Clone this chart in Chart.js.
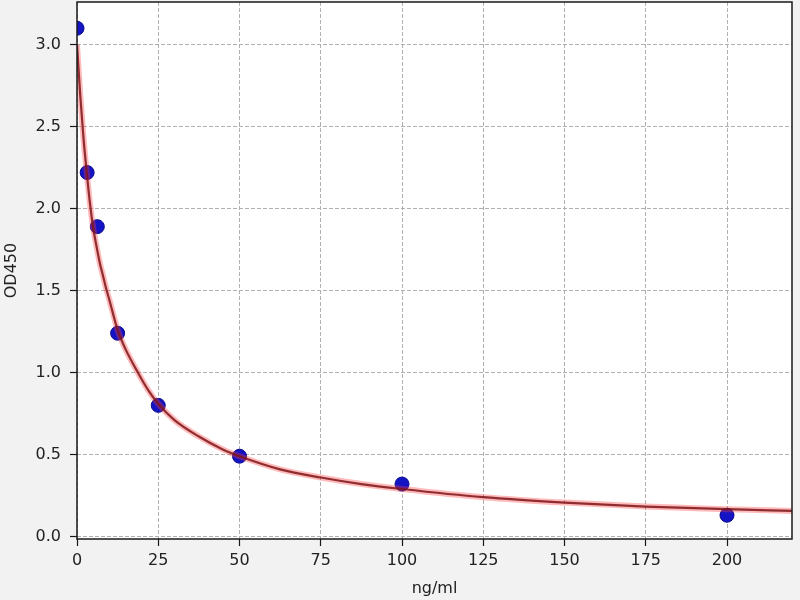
<!DOCTYPE html>
<html>
<head>
<meta charset="utf-8">
<title>OD450 standard curve</title>
<style>
  body { margin: 0; background: #ffffff; }
  #chart { display: block; }
</style>
</head>
<body>
<canvas id="chart" width="800" height="600"></canvas>
<script src="https://cdn.jsdelivr.net/npm/chart.js@4.4.0/dist/chart.umd.min.js"></script>
<script>
// standards (measured points)
const stdConc = [0, 3.125, 6.25, 12.5, 25, 50, 100, 200];
const stdOD   = [3.10, 2.22, 1.89, 1.24, 0.80, 0.49, 0.32, 0.13];

// fitted curve
const fitConc = [0, 1, 2, 3, 4, 5, 6, 7, 8, 9, 10, 12.5, 15, 18.75, 22, 25, 30, 37.5, 45, 50, 62.5, 75, 87.5, 100, 125, 150, 175, 200, 220];
const fitOD   = [3.00, 2.69, 2.43, 2.22, 2.03, 1.88, 1.77, 1.67, 1.59, 1.51, 1.44, 1.26, 1.14, 1.00, 0.89, 0.81, 0.71, 0.61, 0.53, 0.49, 0.41, 0.36, 0.32, 0.29, 0.24, 0.207, 0.183, 0.167, 0.156];

const xTicks = [0, 25, 50, 75, 100, 125, 150, 175, 200];
const yTicks = [0, 0.5, 1, 1.5, 2, 2.5, 3];

const pts = (xs, ys) => xs.map((x, i) => ({x: x, y: ys[i]}));

const font = {family: "'DejaVu Sans', sans-serif", size: 16};

// grey figure background, white axes box, black frame
const frame = {
  id: 'frame',
  beforeDraw(chart) {
    const {ctx, chartArea: a} = chart;
    ctx.save();
    ctx.fillStyle = '#f2f2f2';
    ctx.fillRect(0, 0, chart.width, chart.height);
    ctx.fillStyle = '#ffffff';
    ctx.fillRect(a.left, a.top, a.right - a.left, a.bottom - a.top);
    ctx.restore();
  },
  afterDraw(chart) {
    const {ctx, chartArea: a} = chart;
    ctx.save();
    ctx.strokeStyle = '#1a1a1a';
    ctx.lineWidth = 1.5;
    ctx.strokeRect(a.left, a.top, a.right - a.left, a.bottom - a.top);
    ctx.restore();
  }
};

const gridOpts = {
  color: '#b0b0b0',
  lineWidth: 1,
  tickColor: '#1a1a1a',
  tickLength: 7,
  tickWidth: 1.2
};

new Chart(document.getElementById('chart'), {
  data: {
    datasets: [
      {
        type: 'line',
        label: 'fit glow',
        data: pts(fitConc, fitOD),
        borderColor: 'rgba(255, 60, 60, 0.35)',
        borderWidth: 6,
        pointRadius: 0,
        cubicInterpolationMode: 'monotone',
        order: 2
      },
      {
        type: 'scatter',
        label: 'standards',
        data: pts(stdConc, stdOD),
        backgroundColor: '#1414c4',
        borderColor: '#0c0c90',
        borderWidth: 1,
        pointRadius: 7,
        order: 3
      },
      {
        type: 'line',
        label: 'fit',
        data: pts(fitConc, fitOD),
        borderColor: 'rgba(125, 20, 25, 0.85)',
        borderWidth: 2.2,
        pointRadius: 0,
        cubicInterpolationMode: 'monotone',
        order: 1
      }
    ]
  },
  options: {
    responsive: false,
    animation: false,
    devicePixelRatio: 1,
    layout: {autoPadding: false, padding: {top: 2, right: 8, left: 0, bottom: 0}},
    plugins: {legend: {display: false}, tooltip: {enabled: false}},
    scales: {
      x: {
        type: 'linear',
        min: 0,
        max: 220,
        afterFit(s) { s.height = 61; s.paddingLeft = 0; s.paddingRight = 0; },
        afterBuildTicks(s) { s.ticks = xTicks.map(v => ({value: v})); },
        ticks: {color: '#222', font: font, padding: 5, includeBounds: false, maxRotation: 0},
        grid: gridOpts,
        border: {display: false, dash: [4, 2]},
        title: {display: true, text: 'ng/ml', color: '#222', font: font, padding: {top: 2, bottom: 2}}
      },
      y: {
        type: 'linear',
        min: -0.015,
        max: 3.26,
        afterFit(s) { s.width = 77; s.paddingTop = 0; s.paddingBottom = 0; },
        afterBuildTicks(s) { s.ticks = yTicks.map(v => ({value: v})); },
        ticks: {color: '#222', font: font, padding: 9, includeBounds: false,
                callback: v => v.toFixed(1)},
        grid: gridOpts,
        border: {display: false, dash: [4, 2]},
        title: {display: true, text: 'OD450', color: '#222', font: font, padding: {top: 2, bottom: 2}}
      }
    }
  },
  plugins: [frame]
});
</script>
</body>
</html>
